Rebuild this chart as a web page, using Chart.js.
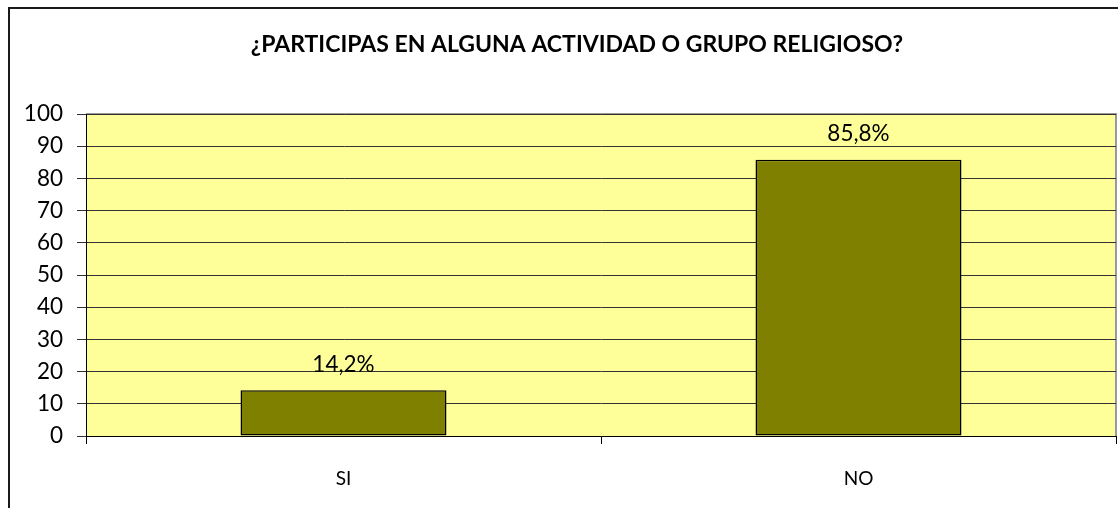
<!DOCTYPE html>
<html>
<head>
<meta charset="utf-8">
<script src="https://cdn.jsdelivr.net/npm/chart.js@4"></script>
<style>
    html, body { margin: 0; padding: 0; overflow: hidden; background: #fff; }
    #wrap { position: relative; width: 1118px; height: 508px; }
    #frame { position: absolute; left: 8px; top: 7px; width: 2000px; height: 2000px; border: 2px solid #1a1a1a; }
    canvas { position: absolute; left: 0; top: 0; }
</style>
</head>
<body>
<div id="wrap">
    <div id="frame"></div>
    <canvas id="chart" width="1118" height="508"></canvas>
</div>
<script>
// chart data
const titleText = '¿PARTICIPAS EN ALGUNA ACTIVIDAD O GRUPO RELIGIOSO?';
const categories = ['SI', 'NO'];
const values = [14.2, 85.8];
const valueLabels = ['14,2%', '85,8%'];
const yTicks = [0, 10, 20, 30, 40, 50, 60, 70, 80, 90, 100];

const fontFamily = 'Lato, "Open Sans", sans-serif';

// plot background + grey border, title, data labels
const excelLook = {
    id: 'excelLook',
    beforeDraw(chart) {
        const ctx = chart.ctx;
        const a = chart.chartArea;
        ctx.save();
        ctx.fillStyle = '#FFFF99';
        ctx.fillRect(a.left, a.top, a.right - a.left, a.bottom - a.top);
        ctx.strokeStyle = '#999999';
        ctx.lineWidth = 2;
        ctx.beginPath();
        ctx.moveTo(a.left, a.top);
        ctx.lineTo(a.right, a.top);
        ctx.lineTo(a.right, a.bottom);
        ctx.stroke();
        ctx.restore();
    },
    afterDraw(chart) {
        const ctx = chart.ctx;
        ctx.save();
        // title
        ctx.fillStyle = '#000';
        ctx.font = 'bold 23px ' + fontFamily;
        ctx.textAlign = 'center';
        ctx.textBaseline = 'middle';
        ctx.fillText(titleText, 577, 45);
        // value labels above bars
        ctx.font = '22.5px ' + fontFamily;
        const meta = chart.getDatasetMeta(0);
        meta.data.forEach((bar, i) => {
            ctx.fillText(valueLabels[i], bar.x, bar.y - 26);
        });
        ctx.restore();
    }
};

new Chart(document.getElementById('chart'), {
    type: 'bar',
    data: {
        labels: categories,
        datasets: [{
            data: values,
            backgroundColor: '#808000',
            borderColor: '#000000',
            borderWidth: 1.5,
            borderSkipped: false,
            categoryPercentage: 1.0,
            barPercentage: 0.4
        }]
    },
    options: {
        responsive: false,
        animation: false,
        layout: { padding: { top: 114, right: 2, left: 0, bottom: 0 } },
        plugins: {
            legend: { display: false },
            tooltip: { enabled: false },
            title: { display: false }
        },
        scales: {
            x: {
                grid: {
                    offset: true,
                    drawOnChartArea: false,
                    color: '#000',
                    tickLength: 8
                },
                border: { color: '#000', width: 1 },
                ticks: {
                    color: '#000',
                    font: { family: fontFamily, size: 19 },
                    padding: 23
                },
                afterFit(scale) { scale.height = 72; }
            },
            y: {
                min: 0,
                max: 100,
                afterBuildTicks(scale) { scale.ticks = yTicks.map(v => ({ value: v })); },
                grid: { color: '#333333', tickLength: 9 },
                border: { color: '#000', width: 1 },
                ticks: {
                    color: '#000',
                    font: { family: fontFamily, size: 22.5 },
                    padding: 14
                },
                afterFit(scale) { scale.width = 86; }
            }
        }
    },
    plugins: [excelLook]
});
</script>
</body>
</html>
